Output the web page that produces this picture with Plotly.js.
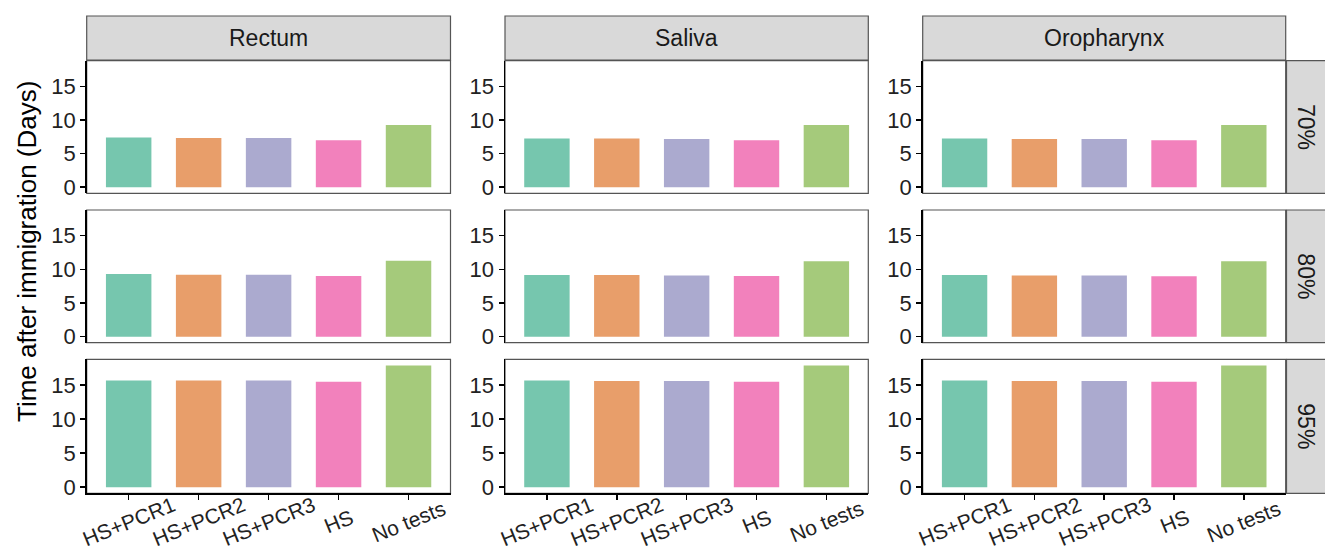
<!DOCTYPE html>
<html>
<head>
<meta charset="utf-8">
<script src="https://cdn.plot.ly/plotly-3.0.1.min.js"></script>
<style>html,body{margin:0;padding:0;background:#fff;}#chart{width:1325px;height:553px;}</style>
</head>
<body>
<div id="chart"></div>
<script>
// ---- data ----
var categories = ['HS+PCR1', 'HS+PCR2', 'HS+PCR3', 'HS', 'No tests'];
var sites = ['Rectum', 'Saliva', 'Oropharynx'];
var levels = ['70%', '80%', '95%'];
var rectum70 = [7.4, 7.3, 7.3, 7.0, 9.25];
var rectum80 = [9.3, 9.2, 9.2, 9.0, 11.25];
var rectum95 = [15.7, 15.7, 15.7, 15.5, 17.9];
var saliva70 = [7.25, 7.25, 7.15, 7.0, 9.25];
var saliva80 = [9.15, 9.15, 9.07, 9.0, 11.2];
var saliva95 = [15.7, 15.6, 15.6, 15.5, 17.9];
var oro70 = [7.25, 7.15, 7.15, 7.0, 9.25];
var oro80 = [9.15, 9.07, 9.07, 8.97, 11.2];
var oro95 = [15.7, 15.6, 15.6, 15.5, 17.9];
var yTicks = [0, 5, 10, 15];
var yTitle = 'Time after immigration (Days)';

// ---- style ----
var barColors = ['#76C6AE', '#E89E6A', '#ABAACF', '#F281BC', '#A5CA7B'];
var W = 1325, H = 553;
var colPx = [[86.7, 450.5], [505, 868.3], [922.7, 1285.7]];
var rowPx = [[60.7, 193.3], [210, 342.7], [359.3, 493.3]];
var font = 'Arial, "Liberation Sans", sans-serif';

var grid = [[rectum70, saliva70, oro70], [rectum80, saliva80, oro80], [rectum95, saliva95, oro95]];

var data = [];
var layout = {
  width: W, height: H,
  margin: {l: 0, r: 0, t: 0, b: 0},
  paper_bgcolor: '#fff', plot_bgcolor: '#fff',
  showlegend: false,
  font: {family: font, size: 22, color: '#222'},
  shapes: [], annotations: []
};

function px2x(p) { return p / W; }
function px2y(p) { return 1 - p / H; }

for (var r = 0; r < 3; r++) {
  for (var c = 0; c < 3; c++) {
    var i = r * 3 + c + 1;
    var xa = 'x' + (i === 1 ? '' : i), ya = 'y' + (i === 1 ? '' : i);
    data.push({
      type: 'bar', x: categories, y: grid[r][c], xaxis: xa, yaxis: ya,
      width: 0.65, marker: {color: barColors, line: {width: 0}},
      hoverinfo: 'x+y'
    });
    var bottom = (r === 2);
    layout['xaxis' + (i === 1 ? '' : i)] = {
      domain: [px2x(colPx[c][0]), px2x(colPx[c][1])],
      anchor: ya, type: 'category', range: [-0.6, 4.6],
      showgrid: false, zeroline: false,
      showline: bottom, linecolor: '#000', linewidth: 1.5,
      ticks: bottom ? 'outside' : '', ticklen: 5, tickwidth: 1.5, tickcolor: '#000',
      showticklabels: false, fixedrange: true
    };
    layout['yaxis' + (i === 1 ? '' : i)] = {
      domain: [px2y(rowPx[r][1]), px2y(rowPx[r][0])],
      anchor: xa, range: [-0.9, 18.8],
      tickvals: yTicks, ticktext: yTicks.map(String),
      showgrid: false, zeroline: false,
      showline: true, linecolor: '#000', linewidth: 1.5,
      ticks: 'outside', ticklen: 5, tickwidth: 1.5, tickcolor: '#000',
      tickfont: {size: 22, color: '#222'}, fixedrange: true
    };
    layout.shapes.push({
      type: 'rect', xref: 'paper', yref: 'paper', layer: 'below',
      x0: px2x(colPx[c][0]), x1: px2x(colPx[c][1]),
      y0: px2y(rowPx[r][1]), y1: px2y(rowPx[r][0]),
      line: {color: '#555', width: 1.2}, fillcolor: 'rgba(0,0,0,0)'
    });
    if (bottom) {
      for (var k = 0; k < categories.length; k++) {
        layout.annotations.push({
          xref: xa, yref: 'paper', x: categories[k], y: px2y(521),
          text: categories[k], showarrow: false, textangle: -22,
          xanchor: 'center', yanchor: 'middle', borderpad: 0,
          font: {size: 21, color: '#222'}
        });
      }
    }
  }
}

for (var c2 = 0; c2 < 3; c2++) {
  layout.shapes.push({
    type: 'rect', xref: 'paper', yref: 'paper',
    x0: px2x(colPx[c2][0]), x1: px2x(colPx[c2][1]),
    y0: px2y(60), y1: px2y(16),
    line: {color: '#555', width: 1.2}, fillcolor: '#D9D9D9'
  });
  layout.annotations.push({
    xref: 'paper', yref: 'paper',
    x: px2x((colPx[c2][0] + colPx[c2][1]) / 2), y: px2y(38),
    text: sites[c2], showarrow: false, xanchor: 'center', yanchor: 'middle',
    font: {size: 23, color: '#1A1A1A'}
  });
}
for (var r2 = 0; r2 < 3; r2++) {
  layout.shapes.push({
    type: 'rect', xref: 'paper', yref: 'paper',
    x0: px2x(1286.5), x1: px2x(1326),
    y0: px2y(rowPx[r2][1]), y1: px2y(rowPx[r2][0]),
    line: {color: '#555', width: 1.2}, fillcolor: '#D9D9D9'
  });
  layout.annotations.push({
    xref: 'paper', yref: 'paper',
    x: px2x(1306), y: px2y((rowPx[r2][0] + rowPx[r2][1]) / 2),
    text: levels[r2], showarrow: false, textangle: 90,
    xanchor: 'center', yanchor: 'middle',
    font: {size: 23, color: '#1A1A1A'}
  });
}
layout.annotations.push({
  xref: 'paper', yref: 'paper', x: px2x(27), y: px2y(252),
  text: yTitle, showarrow: false, textangle: -90,
  xanchor: 'center', yanchor: 'middle',
  font: {size: 26, color: '#000'}
});

Plotly.newPlot('chart', data, layout, {displayModeBar: false, staticPlot: true});
</script>
</body>
</html>
